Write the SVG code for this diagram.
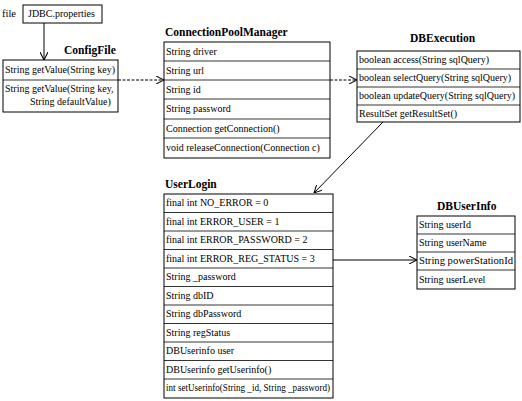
<svg xmlns="http://www.w3.org/2000/svg" width="522" height="401" viewBox="0 0 522 401">
<defs>
<style>
.b{fill:#fff;stroke:#000;stroke-width:1}
.d{stroke:#000;stroke-width:0.8}
.t{font-family:"Liberation Serif","Times New Roman",serif;font-size:10px;fill:#000}
.h{font-family:"Liberation Serif","Times New Roman",serif;font-size:11.5px;font-weight:bold;fill:#000}
.c{fill:none;stroke:#000;stroke-width:1}
.dash{stroke-dasharray:3 1.5}
</style>
<marker id="ah" viewBox="0 0 10 10" refX="10" refY="5" markerWidth="8" markerHeight="8" orient="auto" markerUnits="userSpaceOnUse">
<path d="M0,0 L10,5 L0,10" fill="none" stroke="#000" stroke-width="1.3"/>
</marker>
</defs>
<rect width="522" height="401" fill="#fff"/>

<g id="jdbc">
<text class="t" x="2" y="17" style="font-size:10.5px">file</text>
<rect class="b" x="23" y="5" width="79" height="18"/>
<text class="t" x="28" y="17">JDBC.properties</text>
</g>

<g id="configfile">
<text class="h" x="64" y="54">ConfigFile</text>
<rect class="b" x="3" y="60" width="115" height="52"/>
<line class="d" x1="3" y1="80" x2="118" y2="80"/>
<text class="t" x="5" y="73">String getValue(String key)</text>
<text class="t" x="5" y="92">String getValue(String key,</text>
<text class="t" x="30" y="105">String defaultValue)</text>
</g>

<g id="cpm">
<text class="h" x="165" y="36">ConnectionPoolManager</text>
<rect class="b" x="164" y="42" width="166" height="116"/>
<line class="d" x1="164" y1="61" x2="330" y2="61"/>
<line class="d" x1="164" y1="80" x2="330" y2="80"/>
<line class="d" x1="164" y1="99" x2="330" y2="99"/>
<line class="d" x1="164" y1="119" x2="330" y2="119"/>
<line class="d" x1="164" y1="138" x2="330" y2="138"/>
<text class="t" x="166" y="55">String driver</text>
<text class="t" x="166" y="74">String url</text>
<text class="t" x="166" y="93">String id</text>
<text class="t" x="166" y="112">String password</text>
<text class="t" x="166" y="132">Connection getConnection()</text>
<text class="t" x="166" y="151">void releaseConnection(Connection c)</text>
</g>

<g id="dbexecution">
<text class="h" x="410" y="42">DBExecution</text>
<rect class="b" x="357" y="51" width="163" height="71"/>
<line class="d" x1="357" y1="69" x2="520" y2="69"/>
<line class="d" x1="357" y1="87" x2="520" y2="87"/>
<line class="d" x1="357" y1="105" x2="520" y2="105"/>
<text class="t" x="359" y="63">boolean access(String sqlQuery)</text>
<text class="t" x="359" y="81">boolean selectQuery(String sqlQuery)</text>
<text class="t" x="359" y="99">boolean updateQuery(String sqlQuery)</text>
<text class="t" x="359" y="117">ResultSet getResultSet()</text>
</g>

<g id="userlogin">
<text class="h" x="165" y="188">UserLogin</text>
<rect class="b" x="164" y="194" width="169" height="204"/>
<line class="d" x1="164" y1="212.5" x2="333" y2="212.5"/>
<line class="d" x1="164" y1="231" x2="333" y2="231"/>
<line class="d" x1="164" y1="249.5" x2="333" y2="249.5"/>
<line class="d" x1="164" y1="268" x2="333" y2="268"/>
<line class="d" x1="164" y1="286.5" x2="333" y2="286.5"/>
<line class="d" x1="164" y1="305" x2="333" y2="305"/>
<line class="d" x1="164" y1="323.5" x2="333" y2="323.5"/>
<line class="d" x1="164" y1="342" x2="333" y2="342"/>
<line class="d" x1="164" y1="360.5" x2="333" y2="360.5"/>
<line class="d" x1="164" y1="379" x2="333" y2="379"/>
<text class="t" x="166" y="206">final int NO_ERROR = 0</text>
<text class="t" x="166" y="225">final int ERROR_USER = 1</text>
<text class="t" x="166" y="243">final int ERROR_PASSWORD = 2</text>
<text class="t" x="166" y="262">final int ERROR_REG_STATUS = 3</text>
<text class="t" x="166" y="280">String _password</text>
<text class="t" x="166" y="299">String dbID</text>
<text class="t" x="166" y="317">String dbPassword</text>
<text class="t" x="166" y="336">String regStatus</text>
<text class="t" x="166" y="354">DBUserinfo user</text>
<text class="t" x="166" y="373">DBUserinfo getUserinfo()</text>
<text class="t" x="166" y="391" textLength="164" lengthAdjust="spacingAndGlyphs">int setUserinfo(String _id, String _password)</text>
</g>

<g id="dbuserinfo">
<text class="h" x="437" y="210">DBUserInfo</text>
<rect class="b" x="417" y="216" width="98" height="73"/>
<line class="d" x1="417" y1="234" x2="515" y2="234"/>
<line class="d" x1="417" y1="252" x2="515" y2="252"/>
<line class="d" x1="417" y1="270" x2="515" y2="270"/>
<text class="t" x="419" y="228">String userId</text>
<text class="t" x="419" y="246">String userName</text>
<text class="t" x="419" y="264" textLength="94" lengthAdjust="spacingAndGlyphs">String powerStationId</text>
<text class="t" x="419" y="283">String userLevel</text>
</g>

<g id="connectors">
<line class="c" x1="44" y1="23" x2="44" y2="60" marker-end="url(#ah)"/>
<line class="c dash" x1="118" y1="80" x2="164" y2="80" marker-end="url(#ah)"/>
<line class="c dash" x1="330" y1="80" x2="357" y2="80" marker-end="url(#ah)"/>
<line class="c" x1="383" y1="122" x2="314" y2="193" marker-end="url(#ah)"/>
<line class="c" x1="333" y1="260" x2="417" y2="260" marker-end="url(#ah)"/>
</g>
</svg>
